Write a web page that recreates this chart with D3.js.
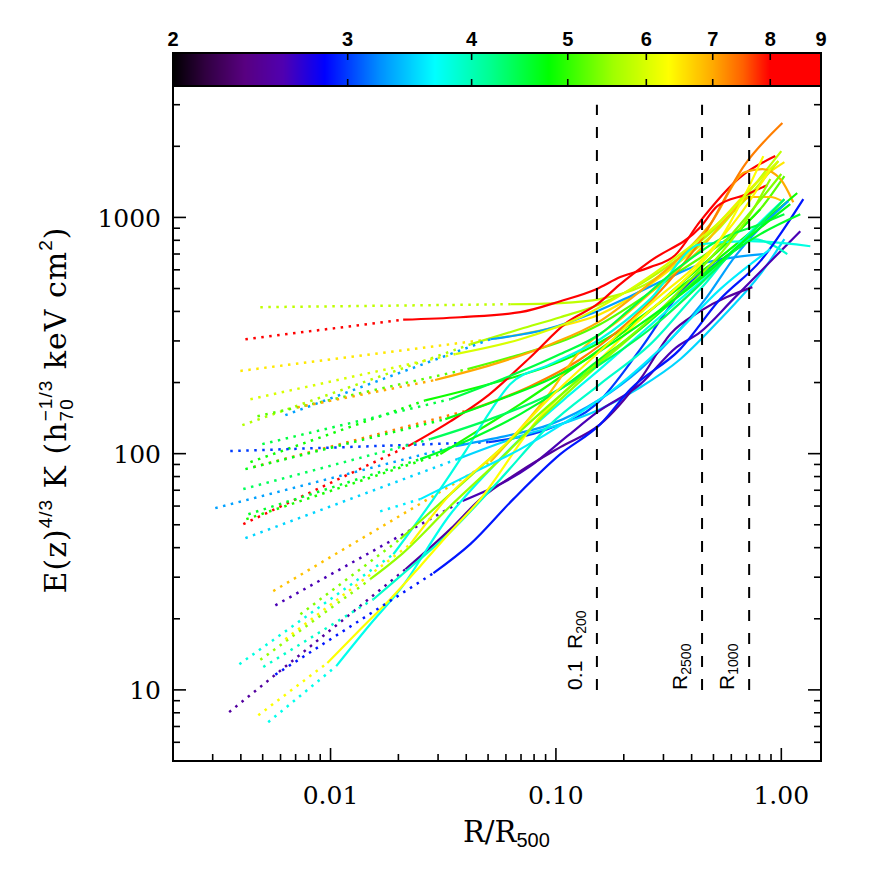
<!DOCTYPE html>
<html><head><meta charset="utf-8">
<script src="https://cdn.jsdelivr.net/npm/d3@7/dist/d3.min.js"></script>
<style>body{margin:0;background:#fff}</style>
</head><body>
<svg id="c" width="872" height="872"></svg>
<script>
// ---- data (R/R500, K) ----
const temps = [5.8, 8.6, 6.5, 5.7, 5.2, 3.3, 7.0, 4.85, 7.3, 3.0, 8.3, 3.3, 3.5, 4.9, 6.8, 2.6, 2.5, 3.8, 3.75, 3.9, 6.3, 5.5, 2.9, 4.5, 4.6, 6.0, 4.4, 5.4, 3.6, 4.7, 6.4];
const innerR = [0.00488,0.00419,0.00398,0.00406,0.00474,0.00630,0.00713,0.00441,0.00455,0.00359,0.00410,0.00308,0.00419,0.00423,0.00557,0.00569,0.00355,0.00394,0.00529,0.00503,0.00478,0.00488,0.00569,0.00498,0.00432,0.00441,0.00410,0.00735,0.0166,0.00419,0.0063];
const innerK = [417,305,224,132,144,145.5,157,92.1,87.7,102.5,50.3,58.8,43.9,52.8,26.2,22.8,8.05,12.85,7.30,12.5,7.81,13.4,11.6,109.7,55.4,170,70.8,20.9,57.0,86.0,16.4];

const prof01 = [[0.0628,429],[0.1046,434],[0.157,451],[0.237,507],[0.356,653],[0.536,909],[0.766,1383],[1.000,1909]];
const prof02 = [[0.0210,369],[0.0377,378],[0.0695,397],[0.1046,442],[0.151,497],[0.193,559],[0.262,616],[0.338,692],[0.437,964],[0.658,1481],[0.940,1818]];
const prof03 = [[0.0550,308],[0.1014,344],[0.157,389],[0.237,488],[0.356,653],[0.536,964],[0.807,1453],[1.032,1715]];
const prof04 = [[0.0417,290],[0.0695,337],[0.1046,378],[0.157,429],[0.237,522],[0.356,679],[0.536,936],[0.766,1318],[0.970,1732]];
const prof05 = [[0.0405,228],[0.0674,261],[0.1123,305],[0.157,353],[0.237,451],[0.356,593],[0.536,770],[0.807,1084],[1.032,1496]];
const prof06 = [[0.0512,305],[0.0916,337],[0.1526,401],[0.214,464],[0.322,559],[0.437,634],[0.625,679],[0.832,699]];
const prof07 = [[0.0291,205],[0.0567,244],[0.0944,290],[0.157,364],[0.237,488],[0.356,679],[0.484,936],[0.692,1556],[0.824,1602],[0.990,1453],[1.130,1160]];
const prof08 = [[0.0263,168],[0.0609,207],[0.0916,234],[0.151,290],[0.237,378],[0.356,507],[0.536,679],[0.807,936],[1.177,1268]];
const prof09 = [[0.0426,154.3],[0.0770,193],[0.1283,251],[0.193,337],[0.2905,488],[0.437,794],[0.692,1682],[1.011,2509]];
const prof10 = [[0.0501,111.9],[0.0916,127],[0.151,162],[0.237,277],[0.367,497],[0.509,634],[0.678,770]];
const prof11 = [[0.0221,107.6],[0.0340,137],[0.0476,170],[0.0770,256],[0.1123,360],[0.1526,429],[0.193,522],[0.262,653],[0.437,909],[0.520,1116],[0.707,1255],[0.867,1370]];
const prof12 = [[0.0358,107.6],[0.0567,117.5],[0.0944,133],[0.157,170],[0.237,228],[0.356,337],[0.460,451],[0.625,686],[1.074,1172]];
const prof13 = [[0.0365,94.8],[0.0695,118.6],[0.1046,133],[0.157,154.3],[0.237,191],[0.356,251],[0.536,371],[0.807,575],[1.032,809]];
const prof14 = [[0.0307,99.5],[0.0462,127],[0.0695,162],[0.1046,211],[0.157,277],[0.237,371],[0.356,522],[0.536,734],[0.807,1084]];
const prof15 = [[0.0512,92.1],[0.0916,175],[0.1283,272],[0.193,371],[0.2905,522],[0.437,734],[0.594,1032],[0.7285,1220],[0.894,1220],[1.011,1172]];
const prof16 = [[0.0385,63.0],[0.0770,88.5],[0.1123,118.6],[0.1526,149.8],[0.237,197],[0.342,282],[0.437,327],[0.612,451],[1.214,874]];
const prof17 = [[0.0215,32.4],[0.034,47.9],[0.0462,64.2],[0.0695,84.3],[0.1046,106.6],[0.157,133],[0.237,207],[0.322,321],[0.437,401],[0.744,507]];
const prof18 = [[0.0190,37.5],[0.0286,64.2],[0.0397,102.5],[0.0512,151.3],[0.0628,197],[0.0944,239],[0.157,305],[0.262,451],[0.437,770],[0.7285,794],[1.345,755]];
const prof19 = [[0.0106,12.6],[0.0150,18.95],[0.0204,26.7],[0.034,55.4],[0.0512,86.0],[0.0770,127],[0.1158,178.5],[0.157,228],[0.237,321],[0.356,451],[0.536,634],[0.766,909],[1.032,1195]];
const prof20 = [[0.0155,24.2],[0.0204,30.3],[0.034,46.6],[0.0567,78.0],[0.0944,133],[0.157,197],[0.262,290],[0.437,497],[0.751,809],[1.063,699]];
const prof21 = [[0.00968,13.0],[0.0136,18.1],[0.0184,24.2],[0.025,33.4],[0.034,46.6],[0.0462,64.2],[0.0853,144],[0.1123,187.5],[0.157,251],[0.237,371],[0.356,522],[0.536,809],[0.692,1255],[0.832,1818]];
const prof22 = [[0.0150,29.4],[0.0204,37.1],[0.034,60.0],[0.0567,94.8],[0.0944,154.3],[0.151,233],[0.237,337],[0.356,473],[0.536,699],[0.7285,1032],[0.894,1453]];
const prof23 = [[0.0286,31.2],[0.0417,41.4],[0.0647,64.2],[0.1046,99.5],[0.157,133],[0.214,187.5],[0.356,277],[0.536,451],[0.807,653],[1.252,1195]];
const prof24 = [[0.034,170],[0.0609,211],[0.1046,264],[0.157,321],[0.214,410],[0.356,620],[0.536,809],[0.807,936],[1.032,1032]];
const prof25 = [[0.025,94.8],[0.0417,115.2],[0.0695,147],[0.1046,187.5],[0.157,251],[0.237,337],[0.356,473],[0.536,653],[0.807,850],[1.214,1032]];
const prof26 = [[0.0358,264],[0.0695,305],[0.1283,378],[0.214,497],[0.356,699],[0.536,964],[0.807,1453],[0.970,1732]];
const prof27 = [[0.0277,115.2],[0.0512,140],[0.0944,178.5],[0.157,239],[0.262,337],[0.437,522],[0.658,770],[1.032,1195]];
const prof28 = [[0.0204,43.5],[0.034,67.4],[0.0567,104.5],[0.0944,162],[0.157,246],[0.262,371],[0.437,604],[0.658,936],[1.000,1526]];
const prof29 = [[0.025,64.2],[0.0417,81.9],[0.0695,104.5],[0.1158,140],[0.193,197],[0.322,305],[0.536,497],[0.894,734]];
const prof30 = [[0.0323,140],[0.0567,170],[0.0944,207],[0.157,272],[0.262,378],[0.437,548],[0.658,770],[1.096,1139]];
const prof31 = [[0.0226,41.4],[0.034,67.4],[0.0567,104.5],[0.0944,173],[0.157,272],[0.262,429],[0.437,653],[0.658,1032],[0.894,1602]];

const cbTicks = [2,3,4,5,6,7,8,9];
const xTickVals = [0.01, 0.1, 1];
const xTickLabels = ["0.01","0.10","1.00"];
const yTickVals = [10, 100, 1000];
const yTickLabels = ["10","100","1000"];
const markerR = [0.152, 0.445, 0.720];
const markerMain = ["0.1  R", "R", "R"];
const markerSub = ["200", "2500", "1000"];

const profiles = [prof01,prof02,prof03,prof04,prof05,prof06,prof07,prof08,prof09,prof10,prof11,prof12,prof13,prof14,prof15,prof16,prof17,prof18,prof19,prof20,prof21,prof22,prof23,prof24,prof25,prof26,prof27,prof28,prof29,prof30,prof31];

// ---- layout ----
const L = 173, R = 821, T = 86, B = 761, CBT = 53;
const svg = d3.select("#c");
const x = d3.scaleLog().domain([0.002, 1.5]).range([L, R]);
const y = d3.scaleLog().domain([5, 3600]).range([B, T]);
const cb = d3.scaleLog().domain([2, 9]).range([L, R]);

const stopT = [0,0.05,0.11,0.17,0.234,0.32,0.404,0.49,0.58,0.68,0.765,0.833,0.88,0.921,1];
const stopC = ["#000000","#300040","#580080","#5000b0","#0000ff","#0090ff","#00ffff","#00ff90","#00ff00","#a0ff00","#ffff00","#ffaa00","#ff6000","#ff0000","#ff0000"];
const pal = d3.scaleLinear().domain(stopT).range(stopC).interpolate(d3.interpolateRgb).clamp(true);
const cmap = v => pal((cb(v) - L) / (R - L));

// colorbar
const cbg = svg.append("g");
for (let px = L; px < R; px++) {
  cbg.append("rect").attr("x", px).attr("y", CBT).attr("width", 1.6).attr("height", T - CBT)
    .attr("fill", cmap(cb.invert(px + 0.5)));
}
cbg.append("rect").attr("x", L).attr("y", CBT).attr("width", R - L).attr("height", T - CBT)
  .attr("fill", "none").attr("stroke", "#000").attr("stroke-width", 2);
cbTicks.forEach(v => {
  const px = cb(v);
  cbg.append("line").attr("x1", px).attr("x2", px).attr("y1", CBT).attr("y2", CBT + 7).attr("stroke", "#000").attr("stroke-width", 1.6);
  cbg.append("line").attr("x1", px).attr("x2", px).attr("y1", T - 7).attr("y2", T).attr("stroke", "#000").attr("stroke-width", 1.6);
  cbg.append("text").attr("x", px).attr("y", 46).attr("text-anchor", "middle")
    .attr("font-family", "Liberation Sans, Arial, sans-serif").attr("font-weight", "bold").attr("font-size", 20).text(v);
});

// curves
svg.append("clipPath").attr("id", "clip").append("rect").attr("x", L).attr("y", T).attr("width", R - L).attr("height", B - T);
const cg = svg.append("g").attr("clip-path", "url(#clip)");
const lineStraight = d3.line().x(d => x(d[0])).y(d => y(d[1]));
const lineSmooth = d3.line().x(d => x(d[0])).y(d => y(d[1])).curve(d3.curveMonotoneX);
profiles.forEach((p, i) => {
  const col = cmap(temps[i]);
  cg.append("path").attr("d", lineStraight([[innerR[i], innerK[i]], p[0]]))
    .attr("fill", "none").attr("stroke", col).attr("stroke-width", 2.5).attr("stroke-dasharray", "2.5,5.5");
  cg.append("path").attr("d", lineSmooth(p))
    .attr("fill", "none").attr("stroke", col).attr("stroke-width", 2.2).attr("stroke-linejoin", "round");
});

// marker lines
markerR.forEach((v, i) => {
  const px = x(v);
  svg.append("line").attr("x1", px).attr("x2", px).attr("y1", y(10)).attr("y2", y(3000))
    .attr("stroke", "#000").attr("stroke-width", 2).attr("stroke-dasharray", "11,12");
  const t = svg.append("text").attr("transform", `translate(${px - 15},${y(10)}) rotate(-90)`)
    .attr("font-family", "Liberation Sans, Arial, sans-serif").attr("font-size", 21).style("white-space", "pre");
  t.append("tspan").text(markerMain[i]);
  t.append("tspan").attr("font-size", 14).attr("dy", 4).text(markerSub[i]);
});

// frame
svg.append("rect").attr("x", L).attr("y", T).attr("width", R - L).attr("height", B - T)
  .attr("fill", "none").attr("stroke", "#000").attr("stroke-width", 2);

// ticks
const ag = svg.append("g").attr("stroke", "#000").attr("stroke-width", 1.6);
for (let d = 0; d <= 3; d++) for (let m = 1; m <= 9; m++) {
  const v = m * Math.pow(10, d);
  if (v < 5 || v > 3600) continue;
  const len = m === 1 ? 13 : 7, py = y(v);
  ag.append("line").attr("x1", L).attr("x2", L + len).attr("y1", py).attr("y2", py);
  ag.append("line").attr("x1", R).attr("x2", R - len).attr("y1", py).attr("y2", py);
}
for (let d = -3; d <= 0; d++) for (let m = 1; m <= 9; m++) {
  const v = m * Math.pow(10, d);
  if (v <= 0.00201 || v > 1.5) continue;
  const len = m === 1 ? 13 : 7, px = x(v);
  ag.append("line").attr("x1", px).attr("x2", px).attr("y1", B).attr("y2", B - len);
}
const serif = "DejaVu Serif, serif";
const sans = "Liberation Sans, Arial, sans-serif";
yTickVals.forEach((v, i) => {
  svg.append("text").attr("x", 161).attr("y", y(v) + 9.5).attr("text-anchor", "end")
    .attr("font-family", serif).attr("font-size", 25).text(yTickLabels[i]);
});
xTickVals.forEach((v, i) => {
  svg.append("text").attr("x", x(v)).attr("y", 804).attr("text-anchor", "middle")
    .attr("font-family", serif).attr("font-size", 25).text(xTickLabels[i]);
});

// x title
const xt = svg.append("text").attr("x", 463).attr("y", 842).attr("font-family", serif).attr("font-size", 29);
xt.append("tspan").text("R/R");
xt.append("tspan").attr("font-family", sans).attr("font-size", 20).attr("dy", 5).text("500");

// y title
const yt = svg.append("text").attr("transform", "translate(66,410) rotate(-90)").attr("text-anchor", "middle")
  .attr("font-family", serif).attr("font-size", 30).attr("letter-spacing", 1);
yt.append("tspan").text("E(z)");
yt.append("tspan").attr("font-family", sans).attr("font-size", 19).attr("dy", -14).text("4/3");
yt.append("tspan").attr("dy", 14).text(" K (h");
yt.append("tspan").attr("font-family", sans).attr("font-size", 19).attr("dy", 7).text("70");
yt.append("tspan").attr("font-family", sans).attr("font-size", 19).attr("dx", -23).attr("dy", -21).text("\u22121/3");
yt.append("tspan").attr("dy", 14).text(" keV cm");
yt.append("tspan").attr("font-family", sans).attr("font-size", 19).attr("dy", -14).text("2");
yt.append("tspan").attr("dy", 14).text(")");
</script>
</body></html>
